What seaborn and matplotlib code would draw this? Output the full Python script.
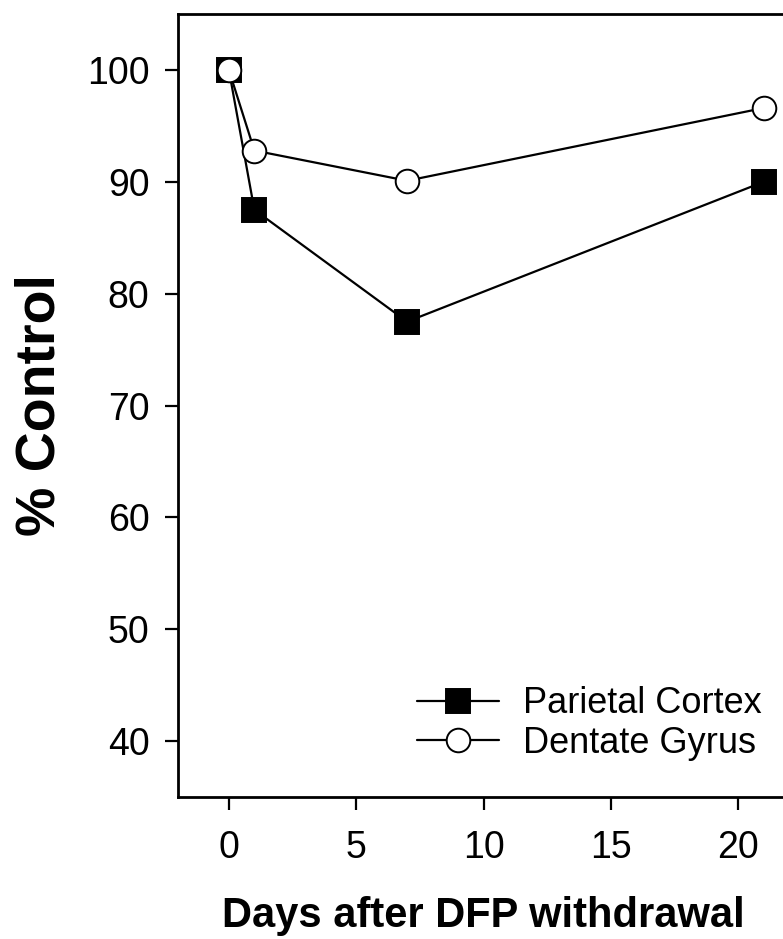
import matplotlib
matplotlib.use("Agg")
import matplotlib.pyplot as plt
import seaborn as sns
import pandas as pd

days = [0, 1, 7, 21]
parietal_cortex = [100.0, 87.5, 77.5, 90.0]
dentate_gyrus = [100.0, 92.8, 90.1, 96.6]
x_ticks = [0, 5, 10, 15, 20]
y_ticks = [40, 50, 60, 70, 80, 90, 100]

df = pd.DataFrame({
    "day": days * 2,
    "pct": parietal_cortex + dentate_gyrus,
    "region": ["Parietal Cortex"] * len(days) + ["Dentate Gyrus"] * len(days),
})

sns.set_style("white")
plt.rcParams["font.family"] = ["Liberation Sans", "DejaVu Sans"]
plt.rcParams["text.color"] = "black"
plt.rcParams["axes.labelcolor"] = "black"
plt.rcParams["xtick.color"] = "black"
plt.rcParams["ytick.color"] = "black"

fig = plt.figure(figsize=(7.83, 9.39), dpi=100)
ax = fig.add_axes([0.2273, 0.1512, 0.7804, 0.8338])

styles = {
    "Parietal Cortex": dict(marker="s", markerfacecolor="black", zorder=2),
    "Dentate Gyrus": dict(marker="o", markerfacecolor="white", zorder=3),
}
for name in ["Parietal Cortex", "Dentate Gyrus"]:
    sub = df[df["region"] == name]
    sns.lineplot(data=sub, x="day", y="pct", ax=ax, color="black", lw=1.6,
                 markersize=17, markeredgecolor="black", markeredgewidth=1.4,
                 label=name, **styles[name])

ax.set_xlim(-2, 22)
ax.set_ylim(35, 105)
ax.set_xticks(x_ticks)
ax.set_yticks(y_ticks)
ax.tick_params(axis="both", direction="out", length=9.5, width=1.6,
               labelsize=27, left=True, bottom=True)
ax.tick_params(axis="x", pad=14)
ax.tick_params(axis="y", pad=11)
ax.set_xlabel("Days after DFP withdrawal", fontsize=30, fontweight="bold",
              labelpad=22)
ax.set_ylabel("% Control", fontsize=40, fontweight="bold", labelpad=14.5)

for side in ["left", "bottom", "top"]:
    ax.spines[side].set_linewidth(2.0)
    ax.spines[side].set_color("black")
ax.spines["right"].set_visible(False)

leg = ax.legend(loc="center left", bbox_to_anchor=(0.391, 0.094), frameon=False,
                fontsize=26, handlelength=2.27, handletextpad=0.67,
                labelspacing=0.12, borderaxespad=0, borderpad=0)

fig.savefig("out.png", dpi=100)
